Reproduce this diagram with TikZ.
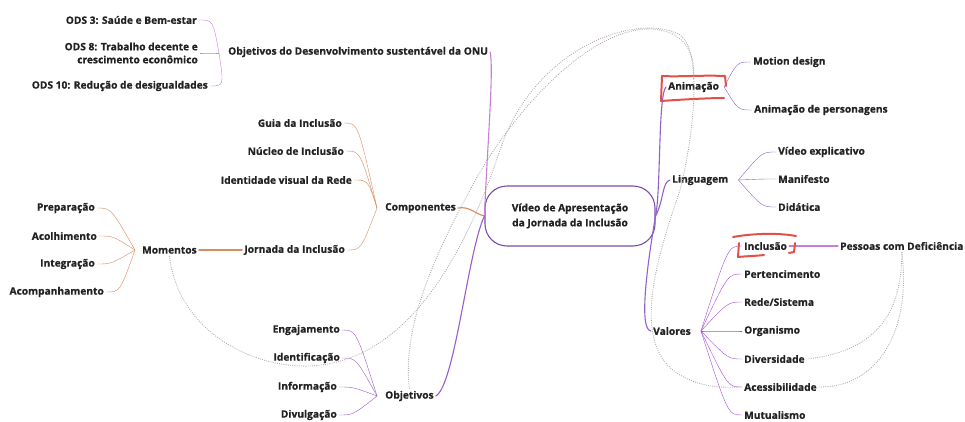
\documentclass[tikz,border=0pt]{standalone}
\usepackage{fontspec}
\setmainfont{Open Sans}[BoldFeatures={FakeBold=0.8}]
\usetikzlibrary{calc}
\definecolor{ink}{HTML}{222222}
\definecolor{onuc}{HTML}{C57FD6}
\definecolor{orng}{HTML}{D98A5E}
\definecolor{objc}{HTML}{9B5CCB}
\definecolor{rgtc}{HTML}{8E62C8}
\definecolor{valc}{HTML}{A24FD6}
\definecolor{ctrc}{HTML}{7A4FAE}
\definecolor{relc}{HTML}{B4ABAB}
\definecolor{mark}{HTML}{E2504A}
\begin{document}
\begin{tikzpicture}[x=1pt,y=-1pt,
  every node/.style={font=\fontsize{10.2}{13}\selectfont\bfseries, text=ink, inner sep=2pt},
  lft/.style={anchor=east},
  rgt/.style={anchor=west},
  conn/.style={line width=1.1pt, line cap=round},
  lb/.style={conn, to path={.. controls ($(\tikztotarget)+(14,0)$) .. (\tikztotarget)}},
  rb/.style={conn, to path={.. controls ($(\tikztotarget)+(-14,0)$) .. (\tikztotarget)}},
  rel/.style={draw=relc, line width=0.9pt, dash pattern=on 0.9pt off 1.3pt},
  hl/.style={draw=mark, line width=2pt, line cap=round, line join=round}]
\useasboundingbox (0,0) rectangle (965,422);

% central topic
\node[draw=ctrc, line width=1.1pt, rounded corners=22pt, minimum width=170pt,
      minimum height=60pt, align=center] (ctr) at (570,216)
      {Vídeo de Apresentação\\[2pt]da Jornada da Inclusão};

% --- ONU goals branch
\node[rgt] (onu) at (226,52) {Objetivos do Desenvolvimento sustentável da ONU};
\node[lft] (ods3) at (199,20) {ODS 3: Saúde e Bem-estar};
\node[lft, align=right] (ods8) at (200,53) {ODS 8: Trabalho decente e\\crescimento econômico};
\node[lft] (ods10) at (210,86) {ODS 10: Redução de desigualdades};
\coordinate (hO) at ($(onu.west)+(-7,1)$);
\draw[onuc] (hO) to[lb] (ods3.east);
\draw[onuc] (hO) to[lb] (ods8.east);
\draw[onuc] (hO) to[lb] (ods10.east);
\draw[conn, onuc] (ctr.west) .. controls (487,150) and (494,70) .. (onu.east);

% --- components branch
\node[rgt] (comp) at (383,208) {Componentes};
\node[lft] (guia) at (344,123) {Guia da Inclusão};
\node[lft] (nucl) at (346,151) {Núcleo de Inclusão};
\node[lft] (iden) at (354,180) {Identidade visual da Rede};
\node[lft] (jorn) at (347,250) {Jornada da Inclusão};
\coordinate (hC) at ($(comp.west)+(-6,0)$);
\foreach \c in {guia,nucl,iden,jorn} \draw[orng] (hC) to[lb] (\c.east);
\draw[conn, orng] (comp.east) .. controls (470,206) and (475,214) .. (ctr.west);

% --- moments
\node[rgt] (mom) at (140,250) {Momentos};
\node[lft] (prep) at (97,208) {Preparação};
\node[lft] (acol) at (99,236) {Acolhimento};
\node[lft] (integ) at (97,264) {Integração};
\node[lft] (acomp) at (106,292) {Acompanhamento};
\coordinate (hM) at ($(mom.west)+(-5,0)$);
\foreach \c in {prep,acol,integ,acomp} \draw[orng] (hM) to[lb] (\c.east);
\draw[conn, orng] (mom.east) -- (jorn.west);

% --- goals
\node[rgt] (obj) at (383,396) {Objetivos};
\node[lft] (enga) at (342,330) {Engajamento};
\node[lft] (idtf) at (342,358) {Identificação};
\node[lft] (info) at (339,387) {Informação};
\node[lft] (divu) at (339,415) {Divulgação};
\coordinate (hB) at ($(obj.west)+(-6,0)$);
\foreach \c in {enga,idtf,info,divu} \draw[objc] (hB) to[lb] (\c.east);
\draw[conn, objc] (obj.east) .. controls (455,385) and (468,250) .. (ctr.west);

% --- animation
\node[rgt] (anim) at (666,87) {Animação};
\node[rgt] (moti) at (751,62) {Motion design};
\node[rgt] (pers) at (752,110) {Animação de personagens};
\coordinate (hA) at ($(anim.east)+(3,0)$);
\foreach \c in {moti,pers} \draw[rgtc] (hA) to[rb] (\c.west);
\draw[conn, rgtc] (ctr.east) .. controls (661,190) and (658,95) .. (anim.west);
\draw[hl] (726,86) -- (725,76) .. controls (700,75) and (680,77) .. (662,76)
          -- (661,101) .. controls (690,99) and (712,98) .. (724,98);

% --- language
\node[rgt] (ling) at (670,180) {Linguagem};
\node[rgt] (vexp) at (776,152) {Vídeo explicativo};
\node[rgt] (mani) at (776,179) {Manifesto};
\node[rgt] (dida) at (776,207) {Didática};
\coordinate (hL) at ($(ling.east)+(8,0)$);
\foreach \c in {vexp,mani,dida} \draw[rgtc] (hL) to[rb] (\c.west);
\draw[conn, rgtc] (ctr.east) .. controls (664,200) and (662,182) .. (ling.west);

% --- values
\node[rgt] (val) at (651,331) {Valores};
\node[rgt] (incl) at (742,246) {Inclusão};
\node[rgt] (pert) at (742,274) {Pertencimento};
\node[rgt] (rede) at (742,302) {Rede/Sistema};
\node[rgt] (orga) at (742,331) {Organismo};
\node[rgt] (dive) at (742,359) {Diversidade};
\node[rgt] (aces) at (742,387) {Acessibilidade};
\node[rgt] (mutu) at (742,415) {Mutualismo};
\coordinate (hV) at ($(val.east)+(8,0)$);
\foreach \c in {incl,pert,rede,orga,dive,aces,mutu} \draw[valc] (hV) to[rb] (\c.west);
\draw[conn, rgtc] (ctr.east) .. controls (648,260) and (638,330) .. (val.west);
\node[rgt] (pcd) at (838,246) {Pessoas com Deficiência};
\draw[conn, onuc] (incl.east) -- (pcd.west);
\draw[hl] (733,237) .. controls (755,233) and (780,233) .. (796,236);
\draw[hl] (739,243) -- (738,257) .. controls (748,256) and (756,256) .. (764,255);
\draw[hl] (795,243) -- (794,252) -- (789,253);

% --- relation lines
\draw[rel] (mom.south) .. controls (178,330) and (250,368) .. (310,366)
  .. controls (400,362) and (460,270) .. (500,150)
  .. controls (535,45) and (640,12) .. (680,35)
  .. controls (702,50) and (695,130) .. (680,190)
  .. controls (658,255) and (628,345) .. (680,375)
  .. controls (700,387) and (722,388) .. (aces.west);
\draw[rel] (obj.north) .. controls (402,330) and (432,260) .. (470,190)
  .. controls (512,110) and (590,28) .. (650,29)
  .. controls (682,30) and (696,50) .. (anim.north);
\draw[rel] (pcd.south) .. controls (902,320) and (870,352) .. (dive.east);
\draw[rel] (pcd.south) .. controls (912,335) and (875,388) .. (aces.east);
\end{tikzpicture}
\end{document}
